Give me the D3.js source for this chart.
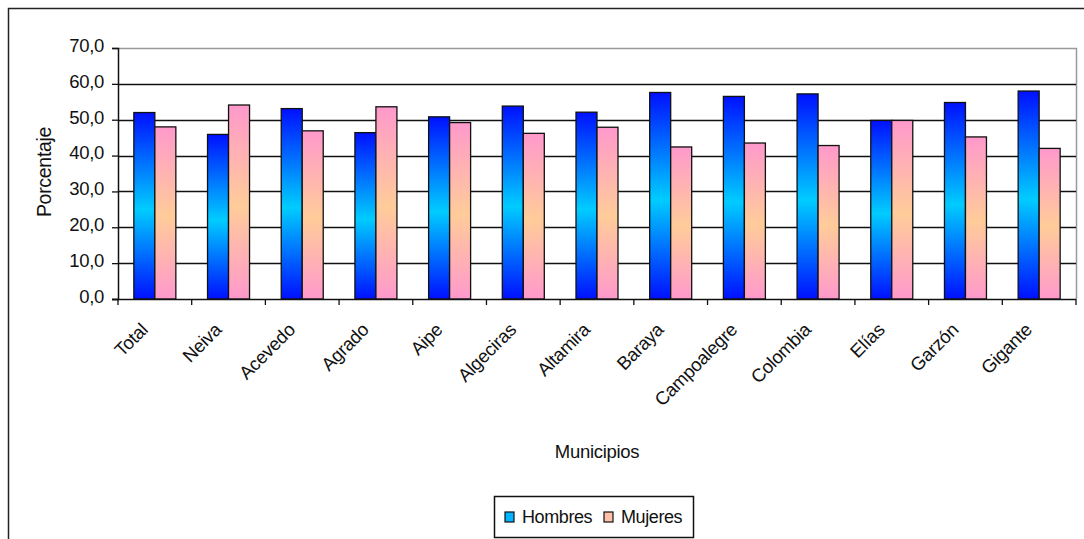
<!DOCTYPE html>
<html>
<head>
<meta charset="utf-8">
<script src="https://cdn.jsdelivr.net/npm/d3@7"></script>
<style>
  body { margin: 0; background: #fff; }
  svg { display: block; font-family: "Liberation Sans", Arial, sans-serif; }
</style>
</head>
<body>
<svg id="chart" width="1084" height="539"></svg>
<script>
let municipios = ["Total", "Neiva", "Acevedo", "Agrado", "Aipe", "Algeciras", "Altamira",
  "Baraya", "Campoalegre", "Colombia", "Elías", "Garzón", "Gigante"];
let hombres = [52.0, 45.9, 53.1, 46.4, 50.8, 53.8, 52.1, 57.6, 56.5, 57.2, 49.8, 54.8, 58.0];
let mujeres = [48.0, 54.1, 46.9, 53.6, 49.2, 46.2, 47.9, 42.4, 43.5, 42.8, 49.8, 45.2, 42.0];
let yTicks = [0, 10, 20, 30, 40, 50, 60, 70];
let series = ["Hombres", "Mujeres"];

let svg = d3.select("#chart");

let margin = { top: 48, left: 118, right: 1076, bottom: 299 };

// outer frame, cut off on the right and bottom like the source
svg.append("rect")
  .attr("x", 8.5).attr("y", 8.5)
  .attr("width", 1100).attr("height", 560)
  .attr("fill", "none")
  .attr("stroke", "#222")
  .attr("stroke-width", 1.5);

let x = d3.scaleBand()
  .domain(municipios)
  .range([margin.left, margin.right]);
let y = d3.scaleLinear()
  .domain([0, 70])
  .range([margin.bottom, margin.top]);

// gradients
let defs = svg.append("defs");
let gradBlue = defs.append("linearGradient").attr("id", "gBlue")
  .attr("x1", 0).attr("y1", 0).attr("x2", 0).attr("y2", 1);
gradBlue.append("stop").attr("offset", "0%").attr("stop-color", "#0010ff");
gradBlue.append("stop").attr("offset", "52%").attr("stop-color", "#00ccff");
gradBlue.append("stop").attr("offset", "100%").attr("stop-color", "#0010ff");
let gradPink = defs.append("linearGradient").attr("id", "gPink")
  .attr("x1", 0).attr("y1", 0).attr("x2", 0).attr("y2", 1);
gradPink.append("stop").attr("offset", "0%").attr("stop-color", "#ff99cc");
gradPink.append("stop").attr("offset", "52%").attr("stop-color", "#ffcc99");
gradPink.append("stop").attr("offset", "100%").attr("stop-color", "#ff99cc");

// plot area border (top and right, gray)
svg.append("path")
  .attr("d", "M" + margin.left + "," + (margin.top + 0.5) + "H" + (margin.right + 0.5) + "V" + margin.bottom)
  .attr("fill", "none")
  .attr("stroke", "#999")
  .attr("stroke-width", 1.5);

// gridlines
svg.append("g")
  .attr("class", "gridlines")
  .selectAll("line")
  .data(yTicks.filter(d => d > 0 && d < 70))
  .enter().append("line")
  .attr("x1", margin.left).attr("x2", margin.right)
  .attr("y1", d => Math.round(y(d)) + 0.5)
  .attr("y2", d => Math.round(y(d)) + 0.5)
  .attr("stroke", "#111")
  .attr("stroke-width", 1.3);

// bars
let barW = 21;
let groups = svg.append("g").selectAll("g")
  .data(municipios)
  .enter().append("g");

groups.append("rect")
  .attr("x", (d) => x(d) + x.bandwidth() / 2 - barW)
  .attr("y", (d, i) => y(hombres[i]))
  .attr("width", barW)
  .attr("height", (d, i) => y(0) - y(hombres[i]))
  .attr("fill", "url(#gBlue)")
  .attr("stroke", "#111")
  .attr("stroke-width", 1.3);

groups.append("rect")
  .attr("x", (d) => x(d) + x.bandwidth() / 2)
  .attr("y", (d, i) => y(mujeres[i]))
  .attr("width", barW)
  .attr("height", (d, i) => y(0) - y(mujeres[i]))
  .attr("fill", "url(#gPink)")
  .attr("stroke", "#111")
  .attr("stroke-width", 1.3);

// y axis
let yAxis = d3.axisLeft(y)
  .tickValues(yTicks)
  .tickSize(6)
  .tickPadding(8)
  .tickFormat(d => d3.format(".1f")(d).replace(".", ","));
let gy = svg.append("g")
  .attr("transform", "translate(" + margin.left + ",0)")
  .call(yAxis);
gy.select(".domain").attr("stroke", "#111").attr("stroke-width", 1.5);
gy.selectAll(".tick line").attr("stroke", "#111").attr("stroke-width", 1.3);
gy.selectAll("text")
  .attr("fill", "#111")
  .attr("dy", "0.18em")
  .style("font-size", "18.5px")
  .style("letter-spacing", "-0.3px")
  .attr("font-family", null);

// x axis: ticks between categories
let xTickPos = municipios.map(d => x(d)).concat([margin.right]);
svg.append("line")
  .attr("x1", margin.left - 6).attr("x2", margin.right)
  .attr("y1", margin.bottom + 0.5).attr("y2", margin.bottom + 0.5)
  .attr("stroke", "#111").attr("stroke-width", 1.5);
svg.append("g").selectAll("line")
  .data(xTickPos)
  .enter().append("line")
  .attr("x1", d => d).attr("x2", d => d)
  .attr("y1", margin.bottom).attr("y2", margin.bottom + 6)
  .attr("stroke", "#111").attr("stroke-width", 1.3);

// category labels, rotated
svg.append("g").selectAll("text")
  .data(municipios)
  .enter().append("text")
  .attr("transform", d => "translate(" + (x(d) + x.bandwidth() / 2 - 6) + "," + (margin.bottom + 32) + ") rotate(-45)")
  .style("text-anchor", "end")
  .style("font-size", "18.5px")
  .style("letter-spacing", "-0.3px")
  .attr("fill", "#111")
  .text(d => d);

// axis titles
svg.append("text")
  .attr("x", (margin.left + margin.right) / 2)
  .attr("y", 458)
  .style("text-anchor", "middle")
  .style("font-size", "18.5px")
  .style("letter-spacing", "-0.3px")
  .attr("fill", "#111")
  .text("Municipios");
svg.append("text")
  .attr("transform", "translate(51,172) rotate(-90)")
  .style("text-anchor", "middle")
  .style("font-size", "19.5px")
  .style("letter-spacing", "-0.3px")
  .attr("fill", "#111")
  .text("Porcentaje");

// legend
let legend = svg.append("g");
legend.append("rect")
  .attr("x", 494.5).attr("y", 496.5)
  .attr("width", 199).attr("height", 41)
  .attr("fill", "#fff")
  .attr("stroke", "#111")
  .attr("stroke-width", 1.5);
let legendFill = ["#00b4ff", "#ffc0a8"];
let legendX = [505, 604];
series.forEach(function(s, i) {
  legend.append("rect")
    .attr("x", legendX[i]).attr("y", 512)
    .attr("width", 9).attr("height", 10)
    .attr("fill", legendFill[i])
    .attr("stroke", "#111")
    .attr("stroke-width", 1.2);
  legend.append("text")
    .attr("x", legendX[i] + 17).attr("y", 523)
    .style("font-size", "18px")
    .style("letter-spacing", "-0.4px")
    .attr("fill", "#111")
    .text(s);
});
</script>
</body>
</html>
